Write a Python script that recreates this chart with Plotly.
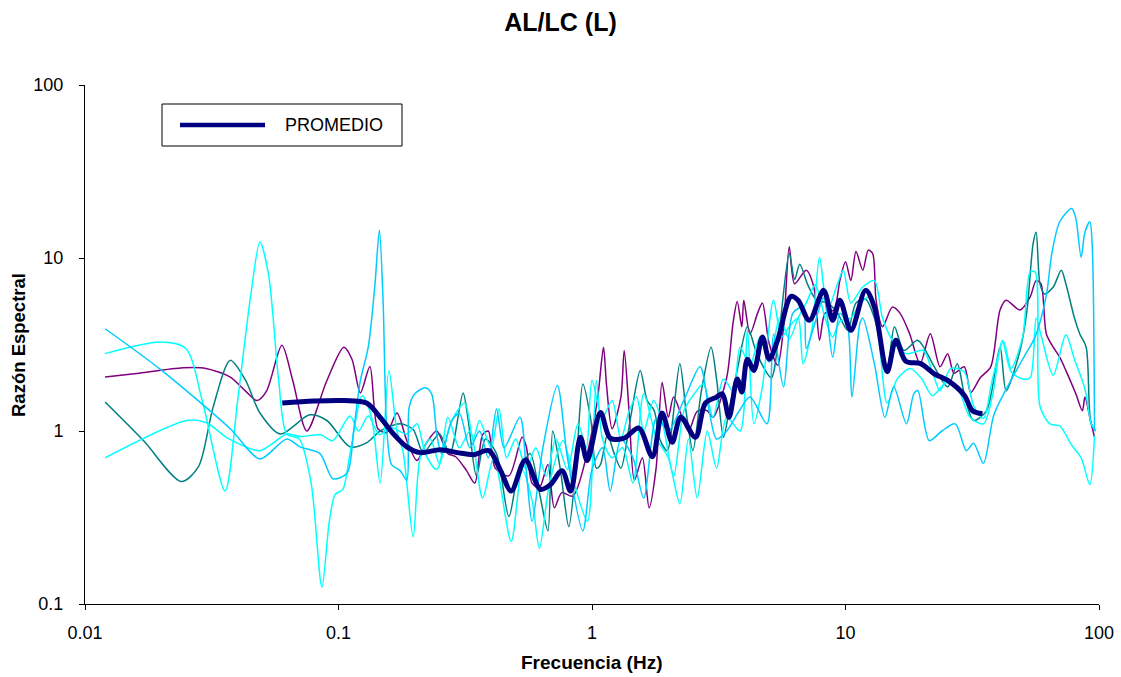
import plotly.graph_objects as go

# ---------------- data ----------------
purple_f = [0.012, 0.016, 0.0244, 0.030, 0.0374, 0.043, 0.0477, 0.052, 0.0598, 0.066, 0.075, 0.09, 0.105,
            0.113, 0.122, 0.133, 0.143, 0.155, 0.17, 0.186, 0.204, 0.222, 0.244, 0.27, 0.29, 0.32, 0.345,
            0.37, 0.39, 0.415, 0.47, 0.53, 0.55, 0.58, 0.62, 0.67, 0.71, 0.76, 0.84, 0.95, 1.05, 1.11, 1.14,
            1.2, 1.30, 1.34, 1.40, 1.47, 1.58, 1.68, 1.79, 1.89, 2.0, 2.1, 2.4, 2.6, 2.85, 3.0, 3.4, 3.6,
            3.74, 3.9, 3.97, 4.2, 4.5, 4.7, 5.0, 5.4, 5.7, 6.0, 6.3, 7.0, 7.5, 7.9, 8.3, 9.0, 9.5, 10.0,
            10.5, 11.0, 11.7, 12.3, 12.8, 13.2, 14.0, 15.3, 16.4, 17.9, 19.7, 21.6, 23.6, 25.3, 26.8, 29.4,
            31.2, 34, 37.4, 40.7, 43, 48.8, 53.5, 56.5, 59, 62, 66, 70, 74, 81, 86, 88, 92, 96]
purple_v = [2.05, 2.15, 2.32, 2.3, 2.05, 1.7, 1.50, 1.7, 3.13, 1.96, 1.0, 1.96, 3.05,
            2.6, 1.66, 2.36, 1.03, 0.98, 1.27, 0.88, 0.675, 0.85, 1.0, 0.74, 0.71, 0.59, 0.50,
            0.95, 1.0, 0.61, 0.55, 0.92, 0.82, 0.50, 0.47, 0.64, 0.36, 0.44, 0.42, 0.71, 1.5, 3.05, 1.87,
            1.03, 1.57, 2.92, 1.31, 0.52, 0.7, 0.36, 0.61, 1.91, 1.2, 1.57, 1.0, 1.3, 1.31, 1.2, 2.04, 4.2,
            5.6, 4.0, 5.7, 3.64, 4.8, 5.5, 3.2, 2.4, 4.0, 11.6, 7.1, 8.5, 6.8, 3.35, 4.8, 5.0, 7.4, 9.5,
            7.4, 10.9, 8.5, 11.1, 10.6, 5.7, 4.0, 5.2, 4.8, 3.65, 2.45, 3.65, 2.35, 2.8, 2.16, 2.35,
            1.67, 2.03, 2.35, 5.0, 5.7, 5.0, 5.95, 7.4, 7.1, 3.64, 3.05, 2.67, 2.24, 1.64, 1.31, 1.57, 1.2, 0.92]

teal_f = [0.012, 0.017, 0.024, 0.028, 0.032, 0.0374, 0.043, 0.049, 0.059, 0.077, 0.09, 0.111, 0.13, 0.146,
          0.175, 0.197, 0.216, 0.25, 0.275, 0.31, 0.325, 0.35, 0.38, 0.42, 0.47, 0.51, 0.57, 0.62, 0.67,
          0.70, 0.75, 0.81, 0.87, 0.92, 0.99, 1.04, 1.08, 1.15, 1.22, 1.30, 1.42, 1.55, 1.65, 1.76, 1.85,
          1.98, 2.22, 2.35, 2.5, 2.7, 2.95, 3.1, 3.3, 3.5, 3.74, 4.1, 4.4, 4.7, 5.1, 5.5, 6.0, 6.3, 6.6,
          7.1, 7.7, 8.5, 9.3, 10.2, 11.0, 12.0, 13.0, 14.6, 15.6, 17.0, 19.3, 22.4, 25.3, 27.6, 29.4, 32,
          36, 40.7, 43, 48.8, 52, 55, 56.5, 58.5, 61, 66, 71, 74, 80, 84, 89, 93, 97]
teal_v = [1.47, 0.88, 0.51, 0.62, 1.37, 2.56, 1.96, 1.27, 0.96, 1.24, 1.15, 0.81, 0.86, 1.0,
          1.1, 1.02, 0.75, 0.96, 0.74, 1.66, 1.15, 0.55, 0.9, 0.74, 0.32, 0.55, 0.74, 0.44, 0.265,
          1.0, 0.6, 0.28, 0.7, 1.87, 1.15, 0.61, 0.64, 0.95, 0.75, 0.61, 1.2, 2.24, 1.5, 1.31, 0.9,
          0.77, 2.45, 1.3, 0.77, 1.7, 3.05, 2.0, 0.92, 1.4, 2.24, 4.0, 3.0, 2.4, 2.03, 4.0, 10.6, 7.5, 9.2,
          7.0, 5.7, 5.5, 4.8, 3.82, 5.5, 5.8, 4.5, 2.35, 4.0, 2.92, 3.34, 2.35, 1.80, 2.45, 1.64, 1.15,
          1.31, 3.05, 1.71, 2.92, 5.0, 12.2, 14.1, 7.1, 6.2, 6.8, 8.5, 7.1, 4.5, 3.64, 3.05, 1.1, 1.0]

cyan1_f = [0.012, 0.0198, 0.025, 0.029, 0.0357, 0.040, 0.045, 0.049, 0.053, 0.058, 0.0625, 0.070, 0.078,
           0.086, 0.092, 0.097, 0.104, 0.111, 0.124, 0.135, 0.146, 0.158, 0.17, 0.18, 0.197, 0.21, 0.23,
           0.25, 0.27, 0.30, 0.33, 0.37, 0.41, 0.48, 0.53, 0.58, 0.62, 0.68, 0.77, 0.85, 0.96, 1.04, 1.1,
           1.2, 1.32, 1.45, 1.6, 1.8, 2.0, 2.22, 2.4, 2.6, 2.85, 3.1, 3.4, 3.84, 4.1, 4.35, 4.7, 5.2, 5.6,
           6.0, 6.5, 6.8, 7.4, 7.9, 8.5, 9.3, 9.8, 10.5, 11.7, 13, 14, 15.6, 17.4, 20.3, 22, 23.6, 26,
           29.4, 32, 35, 38, 42, 45, 50, 53.5, 56, 58.5, 64, 70, 78, 85, 92, 96]
cyan1_v = [2.8, 3.27, 3.0, 1.5, 0.45, 1.5, 6.0, 12.4, 8.0, 2.0, 0.96, 0.9, 0.5,
           0.125, 0.3, 0.43, 0.46, 0.74, 1.6, 1.2, 0.50, 2.24, 1.0, 0.75, 0.245, 0.7, 0.9,
           0.65, 1.2, 0.8, 1.0, 0.41, 0.7, 0.23, 0.6, 0.4, 0.21, 0.5, 0.88, 0.5, 0.3, 1.96, 0.9,
           0.7, 0.8, 0.5, 1.64, 0.9, 0.7, 0.38, 0.9, 0.41, 1.0, 0.61, 1.2, 1.0, 3.82, 1.1, 1.8, 5.7, 3.5,
           4.0, 4.5, 2.45, 4.0, 10.1, 5.0, 7.1, 8.5, 5.5, 6.8, 7.4, 4.5, 3.2, 2.8, 2.92, 2.2, 1.71, 2.3,
           2.2, 1.4, 1.18, 2.0, 3.3, 2.3, 3.5, 8.3, 8.3, 1.39, 1.1, 1.07, 0.83, 0.7, 0.49, 0.94]

cyan2_f = [0.012, 0.0252, 0.030, 0.037, 0.049, 0.0625, 0.0705, 0.085, 0.095, 0.111, 0.12, 0.131, 0.145,
           0.16, 0.186, 0.204, 0.22, 0.244, 0.28, 0.315, 0.34, 0.36, 0.40, 0.43, 0.46, 0.50, 0.55, 0.60,
           0.66, 0.72, 0.80, 0.88, 0.95, 1.0, 1.1, 1.2, 1.3, 1.4, 1.5, 1.6, 1.75, 1.9, 2.1, 2.3, 2.5, 2.75,
           3.0, 3.3, 3.6, 3.84, 4.2, 4.6, 5.0, 5.5, 6.0, 6.5, 7.0, 7.6, 8.3, 8.9, 9.5, 10.5, 11.5, 12.5,
           13.5, 14.6, 16, 18, 20, 22, 25, 28, 31, 35, 38, 41.5, 45, 50, 53.5, 56.5, 59, 66, 74, 80, 88,
           93, 97]
cyan2_v = [0.70, 1.15, 1.12, 0.9, 0.77, 0.96, 0.93, 0.95, 0.88, 1.22, 1.0, 1.22, 0.95,
           1.05, 0.96, 1.1, 0.74, 0.6, 1.15, 1.45, 0.9, 1.15, 0.8, 1.34, 0.7, 0.9, 0.6, 0.8,
           0.55, 0.9, 0.6, 1.1, 0.8, 1.96, 1.2, 1.5, 0.9, 1.3, 1.57, 1.0, 1.5, 1.1, 0.55, 1.3, 1.6, 1.87,
           1.2, 2.0, 1.7, 3.05, 2.4, 3.5, 2.5, 4.5, 3.4, 4.5, 5.5, 7.0, 4.5, 3.5, 4.3, 4.5, 5.5, 6.0,
           3.5, 1.45, 2.0, 2.3, 2.0, 1.6, 1.9, 1.7, 1.2, 1.1, 1.6, 3.34, 2.2, 2.0, 2.03, 4.5, 3.6, 2.1, 3.6,
           2.6, 1.75, 1.11, 1.0]

sky_f = [0.012, 0.02, 0.0374, 0.049, 0.0625, 0.0705, 0.0845, 0.095, 0.108, 0.115, 0.122, 0.131, 0.139,
         0.145, 0.150, 0.155, 0.162, 0.175, 0.186, 0.19, 0.2, 0.22, 0.233, 0.244, 0.255, 0.28, 0.30, 0.33,
         0.36, 0.39, 0.42, 0.45, 0.52, 0.55, 0.58, 0.64, 0.73, 0.8, 0.92, 1.0, 1.1, 1.18, 1.3, 1.45, 1.6,
         1.8, 2.0, 2.3, 2.67, 2.9, 3.1, 3.4, 3.8, 4.2, 4.9, 5.2, 5.7, 6.2, 6.8, 7.0, 7.5, 8.2, 8.9, 9.5,
         10.2, 10.6, 11.4, 11.7, 13, 14.3, 15.5, 17.4, 18.6, 19.3, 21.4, 24, 27.1, 30, 32, 35, 38.5, 44.5,
         51, 56, 62, 65, 70, 78, 81, 85, 88, 92, 94, 96]
sky_v = [3.9, 2.25, 1.03, 0.69, 0.90, 0.81, 0.74, 0.53, 0.57, 1.03, 1.96, 3.05, 6.8,
         14.5, 5.5, 1.03, 0.64, 0.59, 0.52, 1.37, 1.64, 1.78, 1.64, 0.96, 0.74, 1.15, 1.26, 0.8,
         1.0, 0.7, 1.34, 0.8, 1.2, 0.6, 0.30, 0.8, 1.83, 0.7, 0.265, 0.6, 0.8, 0.45, 0.9, 0.7, 0.41,
         1.2, 1.0, 1.5, 2.35, 1.3, 0.9, 1.0, 1.3, 1.57, 1.1, 3.64, 1.80, 4.8, 5.2, 3.0, 4.0, 5.9, 2.67, 4.8,
         4.0, 1.57, 4.2, 4.5, 2.45, 1.2, 1.8, 1.1, 1.64, 1.71, 0.88, 1.0, 1.1, 0.77, 0.85, 0.65, 1.24, 1.91,
         2.74, 3.5, 6.1, 10.4, 16.2, 19.3, 17.0, 10.1, 14.1, 16.2, 12.0, 1.0]

prom_f = [0.06, 0.08, 0.105, 0.129, 0.146, 0.165, 0.186, 0.21, 0.252, 0.294, 0.341, 0.392, 0.436, 0.48,
          0.546, 0.626, 0.686, 0.762, 0.823, 0.90, 0.957, 1.08, 1.18, 1.34, 1.53, 1.73, 1.89, 2.07, 2.24,
          2.56, 2.8, 3.1, 3.27, 3.47, 3.74, 3.9, 4.1, 4.35, 4.7, 5.0, 5.4, 6.1, 6.5, 7.2, 8.2, 8.9, 9.5,
          10.5, 12.0, 13.0, 14.6, 15.8, 17.3, 19.8, 22.4, 25.3, 29.4, 31.7, 34.7]
prom_v = [1.45, 1.49, 1.50, 1.45, 1.2, 0.96, 0.81, 0.75, 0.78, 0.75, 0.73, 0.77, 0.59, 0.45,
          0.68, 0.46, 0.49, 0.59, 0.45, 0.92, 0.675, 1.28, 0.91, 0.91, 1.04, 0.71, 1.27, 0.86, 1.2,
          0.92, 1.45, 1.57, 1.64, 1.2, 2.0, 1.68, 2.6, 2.24, 3.5, 2.6, 3.35, 6.0, 5.7, 4.36, 6.5, 4.36, 5.7,
          3.82, 6.5, 5.2, 2.2, 3.35, 2.53, 2.45, 2.14, 1.96, 1.61, 1.31, 1.26]

x_ticks = [0.01, 0.1, 1, 10, 100]
x_tick_text = ["0.01", "0.1", "1", "10", "100"]
y_ticks = [0.1, 1, 10, 100]
y_tick_text = ["0.1", "1", "10", "100"]

FONT = "Liberation Sans, Arial, sans-serif"

fig = go.Figure()
thin = [
    (purple_f, purple_v, "#800080"),
    (teal_f, teal_v, "#008080"),
    (cyan1_f, cyan1_v, "#00FFFF"),
    (cyan2_f, cyan2_v, "#00FFFF"),
    (sky_f, sky_v, "#00CCFF"),
]
for fx, fy, col in thin:
    fig.add_trace(go.Scatter(x=fx, y=fy, mode="lines", showlegend=False, hoverinfo="skip",
                             line=dict(color=col, width=1.5, shape="spline", smoothing=0.8)))

fig.add_trace(go.Scatter(x=prom_f, y=prom_v, mode="lines", name="PROMEDIO", showlegend=False,
                         line=dict(color="#000080", width=5, shape="spline", smoothing=0.9)))

# plot area (85..1099 x 85..604 px)
PW = 1014.0
PH = 519.0
def px_x(p):
    return (p - 85) / PW
def px_y(p):
    return (604 - p) / PH

# manual legend box (to match the long line sample of the original)
fig.add_shape(type="rect", xref="paper", yref="paper", x0=px_x(162), x1=px_x(402), y0=px_y(146), y1=px_y(104),
              line=dict(color="black", width=1), fillcolor="white", layer="below")
fig.add_shape(type="line", xref="paper", yref="paper", x0=px_x(180), x1=px_x(265), y0=px_y(125), y1=px_y(125),
              line=dict(color="#000080", width=4.5))
fig.add_annotation(text="PROMEDIO", xref="paper", yref="paper", x=px_x(283), y=px_y(125),
                   xanchor="left", yanchor="middle", showarrow=False,
                   font=dict(family=FONT, size=18, color="black"))

# axis titles
fig.add_annotation(text="<b>Frecuencia (Hz)</b>", xref="paper", yref="paper", x=px_x(591), y=px_y(662),
                   xanchor="center", yanchor="middle", showarrow=False,
                   font=dict(family=FONT, size=19, color="black"))
fig.add_annotation(text="<b>Razón Espectral</b>", xref="paper", yref="paper", x=px_x(18), y=px_y(345),
                   xanchor="center", yanchor="middle", showarrow=False, textangle=-90,
                   font=dict(family=FONT, size=18.5, color="black"))

fig.update_layout(
    width=1121, height=677, autosize=False,
    margin=dict(l=85, r=22, t=85, b=73, autoexpand=False),
    paper_bgcolor="white", plot_bgcolor="white",
    title=dict(text="<b>AL/LC (L)</b>", x=0.5, xref="container", y=1 - 22 / 677, yref="container",
               xanchor="center", yanchor="middle", font=dict(family=FONT, size=25, color="black")),
    font=dict(family=FONT, color="black"),
    xaxis=dict(type="log", range=[-2, 2], tickvals=x_ticks, ticktext=x_tick_text, automargin=False,
               ticks="outside", ticklen=5, tickcolor="black", tickwidth=1,
               showline=True, linecolor="black", linewidth=1, showgrid=False, zeroline=False,
               tickfont=dict(family=FONT, size=18, color="black"), ticklabelstandoff=7),
    yaxis=dict(type="log", range=[-1, 2], tickvals=y_ticks, ticktext=y_tick_text, automargin=False,
               ticks="outside", ticklen=5, tickcolor="black", tickwidth=1,
               showline=True, linecolor="black", linewidth=1, showgrid=False, zeroline=False,
               tickfont=dict(family=FONT, size=18, color="black"), ticklabelstandoff=12),
)

fig.write_html("out.html", config={"displayModeBar": False},
               post_script="document.body.style.margin='0px';document.body.style.overflow='hidden';")
